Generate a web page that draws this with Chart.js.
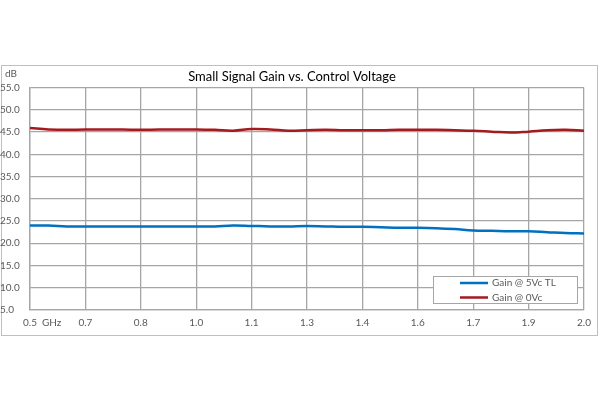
<!DOCTYPE html>
<html>
<head>
<meta charset="utf-8">
<script src="https://cdn.jsdelivr.net/npm/chart.js@4/dist/chart.umd.min.js"></script>
<style>
  html, body { margin: 0; padding: 0; background: #fff; }
  #wrap { width: 600px; height: 400px; }
</style>
</head>
<body>
<div id="wrap"><canvas id="gainChart"></canvas></div>
<script>
// frequency points (GHz)
const freqs = [0.50, 0.55, 0.60, 0.65, 0.70, 0.75, 0.80, 0.85, 0.90, 0.95, 1.00,
               1.05, 1.10, 1.15, 1.20, 1.25, 1.30, 1.35, 1.40, 1.45, 1.50,
               1.55, 1.60, 1.65, 1.70, 1.75, 1.80, 1.85, 1.90, 1.95, 2.00];

// Gain @ 5Vc TL (dB)
const gain5Vc = [24.0, 24.0, 23.8, 23.8, 23.8, 23.8, 23.8, 23.8, 23.8, 23.8, 23.8,
                 24.0, 23.9, 23.8, 23.8, 23.9, 23.8, 23.7, 23.7, 23.6, 23.5,
                 23.5, 23.4, 23.2, 22.9, 22.8, 22.7, 22.7, 22.5, 22.3, 22.2];

// Gain @ 0Vc (dB)
const gain0Vc = [45.9, 45.6, 45.5, 45.6, 45.6, 45.6, 45.5, 45.6, 45.6, 45.6, 45.5,
                 45.3, 45.7, 45.6, 45.3, 45.4, 45.5, 45.4, 45.4, 45.4, 45.5,
                 45.5, 45.5, 45.4, 45.3, 45.1, 44.9, 45.1, 45.4, 45.5, 45.3];

const seriesNames = ['Gain @ 5Vc TL', 'Gain @ 0Vc'];

// x ticks (values and their printed labels)
const xTickValues = [0.5, 0.65, 0.8, 0.95, 1.1, 1.25, 1.4, 1.55, 1.7, 1.85, 2.0];
const xTickLabels = ['0.5', '0.7', '0.8', '1.0', '1.1', '1.3', '1.4', '1.6', '1.7', '1.9', '2.0'];

const FONT = 'Lato, "Open Sans", sans-serif';
const TEXT_GRAY = '#595959';
const GRID = '#a6a6a6';

const toPoints = (ys) => freqs.map((f, i) => ({ x: f, y: ys[i] }));

// frame, unit labels and the in-plot legend
const decorations = {
    id: 'decorations',
    beforeDraw(chart) {
        const ctx = chart.ctx;
        ctx.save();
        ctx.strokeStyle = '#bfbfbf';
        ctx.lineWidth = 1;
        ctx.strokeRect(1.5, 65.5, 596, 270);
        ctx.restore();
    },
    afterDraw(chart) {
        const ctx = chart.ctx;
        const area = chart.chartArea;
        const xs = chart.scales.x;
        ctx.save();
        ctx.fillStyle = TEXT_GRAY;
        ctx.font = '10px ' + FONT;
        ctx.textBaseline = 'middle';
        ctx.textAlign = 'left';
        ctx.fillText('dB', 5, 74);
        ctx.fillText('GHz', xs.getPixelForValue(xTickValues[0]) + 12, area.bottom + 13);

        // legend box
        const w = 144, h = 27;
        const lx = area.right - 7 - w, ly = area.bottom - 7 - h;
        ctx.fillStyle = '#fff';
        ctx.fillRect(lx, ly, w, h);
        ctx.strokeStyle = GRID;
        ctx.lineWidth = 1;
        ctx.strokeRect(Math.round(lx) + 0.5, Math.round(ly) + 0.5, w, h);
        chart.data.datasets.forEach((ds, i) => {
            const y = ly + 7 + i * 14.5;
            ctx.strokeStyle = ds.borderColor;
            ctx.lineWidth = 2.5;
            ctx.beginPath();
            ctx.moveTo(lx + 27, y);
            ctx.lineTo(lx + 55, y);
            ctx.stroke();
            ctx.fillStyle = TEXT_GRAY;
            ctx.fillText(ds.label, lx + 59, y);
        });
        ctx.restore();
    }
};

new Chart(document.getElementById('gainChart'), {
    type: 'line',
    data: {
        datasets: [
            {
                label: seriesNames[0],
                data: toPoints(gain5Vc),
                borderColor: '#0070c0',
                borderWidth: 2.5,
                pointRadius: 0,
                tension: 0.4,
                fill: false
            },
            {
                label: seriesNames[1],
                data: toPoints(gain0Vc),
                borderColor: '#a31a1f',
                borderWidth: 2.5,
                pointRadius: 0,
                tension: 0.4,
                fill: false
            }
        ]
    },
    options: {
        responsive: true,
        maintainAspectRatio: false,
        animation: false,
        layout: {
            padding: { left: 0, right: 16, top: 0, bottom: 64 }
        },
        plugins: {
            legend: { display: false },
            tooltip: { enabled: false },
            title: {
                display: true,
                text: 'Small Signal Gain vs. Control Voltage',
                color: '#000',
                font: { family: FONT, size: 13, weight: 'normal' },
                padding: { top: 69, bottom: 3 }
            }
        },
        scales: {
            x: {
                type: 'linear',
                min: 0.5,
                max: 2.0,
                afterBuildTicks: (scale) => {
                    scale.ticks = xTickValues.map(v => ({ value: v }));
                },
                grid: { color: GRID, lineWidth: 1.3, drawTicks: false },
                border: { color: GRID, width: 1.3 },
                ticks: {
                    color: TEXT_GRAY,
                    font: { family: FONT, size: 10 },
                    padding: 7,
                    maxRotation: 0,
                    autoSkip: false,
                    callback: (v, i) => xTickLabels[i]
                }
            },
            y: {
                min: 5,
                max: 55,
                afterFit: (scale) => { scale.width = 30; },
                grid: { color: GRID, lineWidth: 1.3, drawTicks: false },
                border: { color: GRID, width: 1.3 },
                ticks: {
                    stepSize: 5,
                    color: TEXT_GRAY,
                    font: { family: FONT, size: 10 },
                    crossAlign: 'far',
                    padding: 4,
                    callback: (v) => v.toFixed(1)
                }
            }
        }
    },
    plugins: [decorations]
});
</script>
</body>
</html>
